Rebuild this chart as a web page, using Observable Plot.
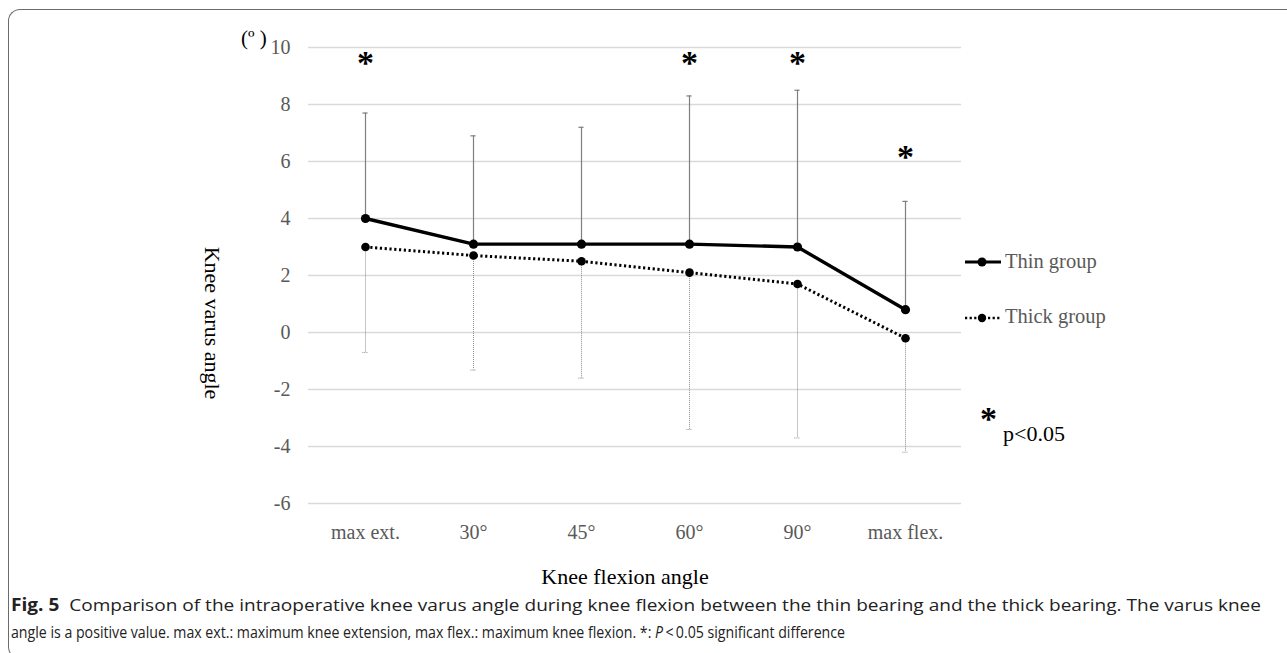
<!DOCTYPE html>
<html>
<head>
<meta charset="utf-8">
<script src="https://cdn.jsdelivr.net/npm/d3@7"></script>
<script src="https://cdn.jsdelivr.net/npm/@observablehq/plot@0.6"></script>
<style>
  html, body { margin: 0; padding: 0; background: #fff; }
  #wrap { position: relative; width: 1287px; height: 653px; overflow: hidden; }
  #frame { position: absolute; left: 8px; top: 9px; width: 1300px; height: 650px;
    border-top: 1.5px solid #6b6b6b; border-left: 1.5px solid #6b6b6b; border-bottom: 1.5px solid #6b6b6b;
    border-top-left-radius: 12px; border-bottom-left-radius: 12px; box-sizing: border-box; }
  #chart { position: absolute; left: 0; top: 0; }
  .serif { font-family: "Liberation Serif", "Times New Roman", serif; position: absolute; white-space: nowrap; }
  #ytitle { left: 212px; top: 323px; font-size: 22px; color: #000; transform: translate(-50%, -50%) rotate(90deg); }
  #xtitle { left: 625px; top: 577px; font-size: 22px; color: #000; transform: translate(-50%, -50%); }
  #unit { left: 241px; top: 26px; font-size: 21px; color: #000; }
  .leg { font-size: 20.5px; color: #595959; }
  #sig { left: 980px; top: 400px; font-size: 34px; font-weight: bold; color: #000; }
  #sigtxt { left: 1003px; top: 421px; font-size: 22px; color: #000; }
  #caption { position: absolute; left: 11px; top: 591px; font-family: "Open Sans", "Noto Sans", sans-serif; font-size: 17px; color: #222; line-height: 27px; }
  #caption span.line { display: inline-block; white-space: nowrap; transform-origin: 0 50%; }
</style>
</head>
<body>
<div id="wrap">
  <div id="frame"></div>
  <div id="chart"></div>
  <div id="unit" class="serif">(º )</div>
  <div id="ytitle" class="serif">Knee varus angle</div>
  <div id="xtitle" class="serif">Knee flexion angle</div>
  <svg id="legsvg" style="position:absolute;left:960px;top:250px" width="45" height="80">
    <line x1="5" y1="12" x2="41" y2="12" stroke="#000" stroke-width="3"/>
    <circle cx="22" cy="12" r="4.5" fill="#000"/>
    <line x1="5" y1="68" x2="41" y2="68" stroke="#000" stroke-width="2.6" stroke-dasharray="2.2,2.4"/>
    <circle cx="22" cy="68" r="4.2" fill="#000"/>
  </svg>
  <div class="serif leg" style="left:1005px;top:250px;">Thin group</div>
  <div class="serif leg" style="left:1005px;top:305px;">Thick group</div>
  <div id="sig" class="serif">*</div>
  <div id="sigtxt" class="serif">p&lt;0.05</div>
  <div id="caption">
    <span class="line" data-w="1250"><b>Fig. 5</b>&nbsp; Comparison of the intraoperative knee varus angle during knee flexion between the thin bearing and the thick bearing. The varus knee</span><br>
    <span class="line" data-w="834">angle is a positive value. max ext.: maximum knee extension, max flex.: maximum knee flexion. *: <i>P</i>&thinsp;&lt;&thinsp;0.05 significant difference</span>
  </div>
</div>
<script>
const categories = ["max ext.", "30°", "45°", "60°", "90°", "max flex."];
const thinMean = [4.0, 3.1, 3.1, 3.1, 3.0, 0.8];
const thinUpper = [7.7, 6.9, 7.2, 8.3, 8.5, 4.6];
const thickMean = [3.0, 2.7, 2.5, 2.1, 1.7, -0.2];
const thickLower = [-0.7, -1.32, -1.6, -3.4, -3.7, -4.2];
const sigY = [9.55, null, null, 9.55, 9.55, 6.25];
const yTicks = [-6, -4, -2, 0, 2, 4, 6, 8, 10];

const thin = categories.map((c, i) => ({cat: c, mean: thinMean[i], err: thinUpper[i]}));
const thick = categories.map((c, i) => ({cat: c, mean: thickMean[i], err: thickLower[i]}));
const sig = categories.map((c, i) => ({cat: c, y: sigY[i]})).filter(d => d.y != null);

const capInset = (1287 - 308 - 326) / 6 / 2 - 3;

const chart = Plot.plot({
  width: 1287,
  height: 559,
  marginLeft: 308,
  marginRight: 326,
  marginTop: 47,
  marginBottom: 56,
  style: {fontFamily: "'Liberation Serif', 'Times New Roman', serif", background: "transparent"},
  x: {type: "band", domain: categories, padding: 0, label: null},
  y: {domain: [-6, 10], label: null},
  marks: [
    Plot.gridY(yTicks, {stroke: "#d9d9d9", strokeOpacity: 1, strokeWidth: 1.3}),
    Plot.axisY(yTicks, {tickSize: 0, tickPadding: 18, fontSize: 20, fill: "#595959", tickFormat: d => String(d), label: null}),
    Plot.axisX({tickSize: 0, tickPadding: 21, fontSize: 20, fill: "#595959", label: null}),
    // thin error bars (upper)
    Plot.ruleX(thin, {x: "cat", y1: "mean", y2: "err", stroke: "#7f7f7f", strokeWidth: 1.2}),
    Plot.tickY(thin, {x: "cat", y: "err", stroke: "#7f7f7f", strokeWidth: 1.2, insetLeft: capInset, insetRight: capInset}),
    // thick error bars (lower)
    Plot.ruleX(thick, {x: "cat", y1: "mean", y2: "err", stroke: "#8c8c8c", strokeWidth: 1, strokeDasharray: "1,1"}),
    Plot.tickY(thick, {x: "cat", y: "err", stroke: "#8c8c8c", strokeWidth: 1, strokeDasharray: "1,1", insetLeft: capInset, insetRight: capInset}),
    // lines
    Plot.line(thick, {x: "cat", y: "mean", stroke: "#000", strokeWidth: 3, strokeDasharray: "2.2,2.6", strokeLinecap: "butt"}),
    Plot.dot(thick, {x: "cat", y: "mean", r: 4.3, fill: "#000"}),
    Plot.line(thin, {x: "cat", y: "mean", stroke: "#000", strokeWidth: 3.4}),
    Plot.dot(thin, {x: "cat", y: "mean", r: 4.6, fill: "#000"}),
    // significance asterisks
    Plot.text(sig, {x: "cat", y: "y", text: () => "*", fontSize: 34, fontWeight: "bold", fill: "#000", dy: 3})
  ]
});
document.getElementById("chart").appendChild(chart);

document.querySelectorAll("#caption span.line").forEach(s => {
  const w = s.getBoundingClientRect().width;
  const target = +s.dataset.w;
  if (w > 0) s.style.transform = `scaleX(${target / w})`;
});
</script>
</body>
</html>
